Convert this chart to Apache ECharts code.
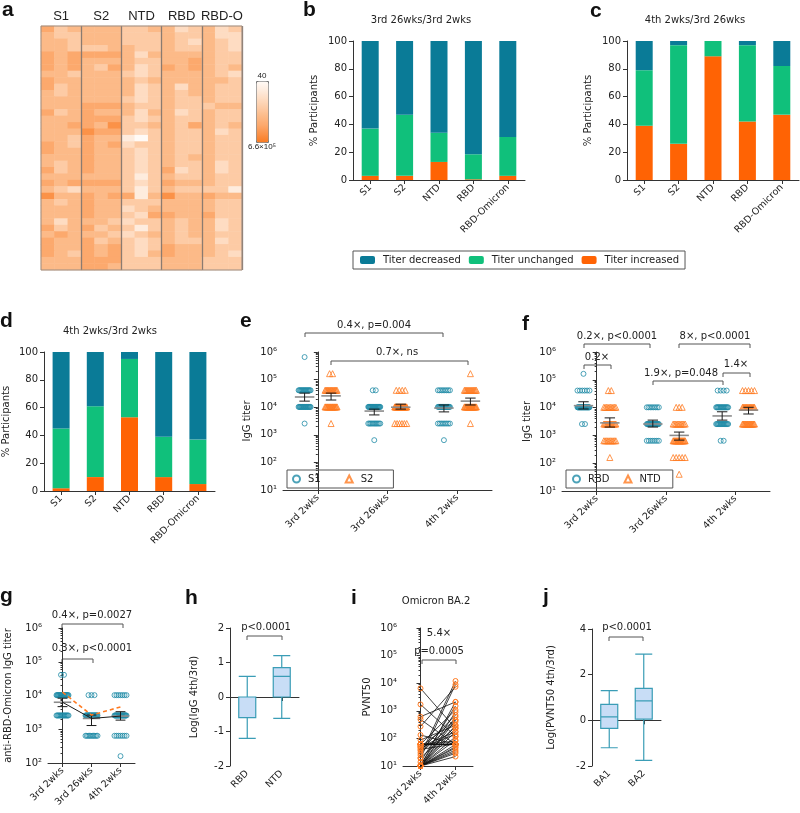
<!DOCTYPE html>
<html><head><meta charset="utf-8">
<script src="https://cdn.jsdelivr.net/npm/echarts@6/dist/echarts.min.js"></script>
<style>html,body{margin:0;padding:0;background:#fff}#c{width:800px;height:813px}</style>
</head><body><div id="c"></div><script>
// ---------------- DATA ----------------
// a: heatmap, level k => titer 40*4^k (k = 0..7)
const heatGroups = ['S1','S2','NTD','RBD','RBD-O'];
const heatRows = [
'534444334423423','433444333433422','443444333432432','443334433433432','545555424444433',
'545444433445433','545435423545434','443444323444432','544444434444443','534444423424433',
'434444423434433','444444323433433','444555433433344','534544424423433','444555323433433',
'445546334435434','444655323433423','443544103433433','543545233433433','544544323433433',
'444544323434433','434544323433423','534544323523423','444444313433433','545555323544433',
'432444313433331','644545514644544','434544333444433','444544234444433','444544325544533',
'424443233434423','534534313434423','454443234434433','544534323433423','544545323544433',
'543545324544432','444555333444333','444554333444333'];
const heatScaleLabels = ['40','6.6×10⁵'];

// b, c, d: stacked % participants
const barCats = ['S1','S2','NTD','RBD','RBD-Omicron'];
const b_inc = [3,3,13,0.5,3],  b_unch = [34,44,21,18,28], b_dec = [63,53,66,81.5,69];
const c_inc = [39,26,89,42,47], c_unch = [40,71,11,55,35], c_dec = [21,3,0,3,18];
const d_inc = [2,10,53,10,5],   d_unch = [43,51,42,29,32], d_dec = [55,39,5,61,63];

// e, f, g: counts of participants per titer level, for each time point
const timeCats = ['3rd 2wks','3rd 26wks','4th 2wks'];
const titerLevels = [40,160,640,2560,10240,40960,163840,655360];
const e_S1  = [[0,0,0,1,19,16,0,1],[0,0,1,11,23,2,0,0],[0,0,1,8,20,8,0,0]];
const e_S2  = [[0,0,0,1,18,16,2,0],[0,0,0,6,27,4,0,0],[0,0,0,1,21,14,1,0]];
const f_RBD = [[0,0,0,2,28,6,1,0],[0,0,7,22,8,0,0,0],[0,0,2,15,16,4,0,0]];
const f_NTD = [[0,1,10,14,10,2,0,0],[1,5,18,10,3,0,0,0],[0,0,0,16,16,5,0,0]];
const g_RBDO= [[0,0,0,15,20,2,0,0],[0,0,10,24,3,0,0,0],[0,1,7,22,7,0,0,0]];
// mean and SEM (log10)
const e_S1_mean=[4.37,3.86,3.97], e_S1_lo=[4.22,3.72,3.83], e_S1_hi=[4.51,3.93,4.08];
const e_S2_mean=[4.41,4.00,4.22], e_S2_lo=[4.26,3.93,4.08], e_S2_hi=[4.51,4.11,4.33];
const f_RBD_mean=[4.07,3.41,3.70], f_RBD_lo=[3.95,3.30,3.55], f_RBD_hi=[4.21,3.55,3.85];
const f_NTD_mean=[3.45,3.00,3.91], f_NTD_lo=[3.30,2.83,3.77], f_NTD_hi=[3.63,3.12,4.01];
const g_mean=[3.80,3.32,3.39], g_lo=[3.67,3.11,3.27], g_hi=[3.92,3.42,3.52];
const g_dash=[4.10,3.42,3.66];

// h, j: box plots [min, Q1, median, Q3, max]
const hCats = ['RBD','NTD'];
const hBoxes = [[-1.2,-0.6,0,0,0.6],[-0.62,0,0.6,0.85,1.2]];
const jCats = ['BA1','BA2'];
const jBoxes = [[-1.2,-0.35,0.15,0.7,1.3],[-1.75,0.05,0.85,1.4,2.9]];

// i: paired PVNT50 (3rd 2wks, 4th 2wks)
const iCats = ['3rd 2wks','4th 2wks'];
const i_3rd = [6500,1700,610,490,270,133,87,61,61,61,61,61,50,50,36,25,19,14,11,10,10,10,10,10,10,10,10,10,10,10,10,10,40,45,30,20,60,60,10,10];
const i_4th = [230,120,2100,60,7400,60,300,61,61,61,61,1070,465,175,700,12000,9000,1500,900,60,38,29,22,50,87,115,175,230,300,465,600,2100,63,140,400,260,60,80,45,33];

// ---------------- STYLE ----------------
const GP = 'DejaVu Sans';
const AX = '#333';
const C_DEC = '#0a7b97', C_UNCH = '#10c07b', C_INC = '#ff6304';
const TEAL = '#1f8ba6', ORANGE = '#ff7a21';
const sup = {'0':'⁰','1':'¹','2':'²','3':'³','4':'⁴','5':'⁵','6':'⁶'};
function logLabel(v){ const e = Math.round(Math.log10(v)); return '10' + sup[String(e)]; }

const grids = [
  {left:41, top:26, width:201, height:244},   // a
  {left:353, top:41, width:172, height:139},  // b
  {left:627, top:41, width:172, height:139},  // c
  {left:41, top:352, width:174, height:139},  // d
  {left:283, top:352, width:209, height:138}, // e
  {left:562, top:352, width:208, height:139}, // f
  {left:48, top:628, width:87, height:135},   // g
  {left:230, top:628, width:69, height:138},  // h
  {left:403, top:628, width:70, height:138},  // i
  {left:592, top:629, width:69, height:137}   // j
];

function catX(gridIndex, data, extra){
  return Object.assign({type:'category', gridIndex, data,
    axisLine:{show:true, lineStyle:{color:AX, width:1}},
    axisTick:{show:true, alignWithLabel:true, length:4, lineStyle:{color:AX}},
    axisLabel:{rotate:45, interval:0, fontSize:9.5, color:'#222', fontFamily:GP, margin:6},
    splitLine:{show:false}}, extra||{});
}
function hidX(gridIndex, max){ return {type:'value', gridIndex, min:-0.5, max, show:false}; }
function valY(gridIndex, min, max, interval, name, gap){
  return {type:'value', gridIndex, min, max, interval, name, nameLocation:'middle', nameGap:gap,
    nameTextStyle:{fontFamily:GP, fontSize:10, color:'#222'},
    axisLine:{show:true, lineStyle:{color:AX}}, axisTick:{show:true, length:4, lineStyle:{color:AX}},
    axisLabel:{fontSize:10, color:'#222', fontFamily:GP, margin:6}, splitLine:{show:false}};
}
function logY(gridIndex, min, max, name, gap){
  return {type:'log', logBase:10, gridIndex, min, max, name, nameLocation:'middle', nameGap:gap,
    nameTextStyle:{fontFamily:GP, fontSize:10, color:'#222'},
    axisLine:{show:true, lineStyle:{color:AX}}, axisTick:{show:true, length:4, lineStyle:{color:AX}},
    minorTick:{show:true, splitNumber:9, length:2, lineStyle:{color:AX}},
    axisLabel:{fontSize:10, color:'#222', fontFamily:GP, margin:6, formatter:logLabel}, splitLine:{show:false}};
}

const xAxes = [
  {type:'category', gridIndex:0, data:heatRows[0].split('').map((_,i)=>'c'+i), z:10,
   axisLine:{show:false}, axisTick:{show:false}, axisLabel:{show:false},
   splitLine:{show:true, interval:(i)=> i>0 && i%3===0, lineStyle:{color:'#8b7b70', width:1.3}}},
  {type:'category', gridIndex:0, position:'top', data:heatRows[0].split('').map((_,i)=>heatGroups[Math.floor(i/3)]+'|'+i),
   axisLine:{show:false}, axisTick:{show:false},
   axisLabel:{interval:(i)=> i%3===1, formatter:(v)=>v.split('|')[0], fontSize:13, color:'#222', fontFamily:'Liberation Sans', margin:3}},
  catX(1, barCats), catX(2, barCats), catX(3, barCats),
  catX(4, timeCats), hidX(4, 2.5),
  catX(5, timeCats), hidX(5, 2.5),
  catX(6, timeCats), hidX(6, 2.5),
  catX(7, hCats),
  catX(8, iCats), hidX(8, 1.5),
  catX(9, jCats)
];
const yAxes = [
  {type:'category', gridIndex:0, inverse:true, data:heatRows.map((_,i)=>'r'+i), show:false},
  valY(1, 0, 100, 20, '% Participants', 34),
  valY(2, 0, 100, 20, '% Participants', 34),
  valY(3, 0, 100, 20, '% Participants', 33),
  logY(4, 10, 1e6, 'IgG titer', 31),
  logY(5, 10, 1e6, 'IgG titer', 30),
  logY(6, 100, 1e6, 'anti-RBD-Omicron IgG titer', 35),
  valY(7, -2, 2, 1, 'Log(IgG 4th/3rd)', 31),
  logY(8, 10, 1e6, 'PVNT50', 31),
  valY(9, -2, 4, 2, 'Log(PVNT50 4th/3rd)', 36)
];

// ---------------- SERIES ----------------
const series = [];
const heatData = [];
heatRows.forEach((row, r)=> row.split('').forEach((ch, c)=> heatData.push([c, r, Number(ch)])));
series.push({type:'heatmap', xAxisIndex:0, yAxisIndex:0, data:heatData, itemStyle:{borderWidth:0}});

function bars(xi, yi, stack, inc, unch, dec){
  const base = {type:'bar', xAxisIndex:xi, yAxisIndex:yi, stack, barWidth:17};
  series.push(Object.assign({name:'Titer increased', data:inc, itemStyle:{color:C_INC}}, base));
  series.push(Object.assign({name:'Titer unchanged', data:unch, itemStyle:{color:C_UNCH}}, base));
  series.push(Object.assign({name:'Titer decreased', data:dec, itemStyle:{color:C_DEC}}, base));
}
bars(2,1,'b',b_inc,b_unch,b_dec);
bars(3,2,'c',c_inc,c_unch,c_dec);
bars(4,3,'d',d_inc,d_unch,d_dec);

function swarm(countsByTime, side, unitPx){
  const maxW = 12, stepPx = 3, pts = [];
  countsByTime.forEach((counts, t)=>{
    counts.forEach((n, k)=>{
      if(!n) return;
      const step = n>1 ? Math.min(stepPx, maxW/(n-1)) : 0;
      for(let i=0;i<n;i++) pts.push([t + side + (i-(n-1)/2)*step/unitPx, titerLevels[k]]);
    });
  });
  return pts;
}
function ring(color){ return {color:'rgba(0,0,0,0)', borderColor:color, borderWidth:1}; }
function meanSem(xi, yi, side, mean, lo, hi, halfMean, halfCap){
  const data = mean.map((m,t)=>[t+side, Math.pow(10,m), Math.pow(10,lo[t]), Math.pow(10,hi[t])]);
  series.push({type:'custom', xAxisIndex:xi, yAxisIndex:yi, data, z:5, silent:true,
    renderItem:(p, api)=>{
      const x=api.value(0), m=api.value(1), l=api.value(2), h=api.value(3);
      const a=api.coord([x-halfMean,m]), b=api.coord([x+halfMean,m]);
      const pl=api.coord([x,l]), ph=api.coord([x,h]);
      const l1=api.coord([x-halfCap,l]), l2=api.coord([x+halfCap,l]);
      const h1=api.coord([x-halfCap,h]), h2=api.coord([x+halfCap,h]);
      const ln=(p1,p2,st,w)=>({type:'line', shape:{x1:p1[0],y1:p1[1],x2:p2[0],y2:p2[1]}, style:{stroke:st, lineWidth:w}});
      return {type:'group', children:[ln(a,b,'#8c8c8c',1.6), ln(pl,ph,'#1a1a1a',1), ln(l1,l2,'#1a1a1a',1), ln(h1,h2,'#1a1a1a',1)]};
    }});
}
// e
series.push({name:'S1', type:'scatter', xAxisIndex:6, yAxisIndex:4, symbol:'circle', symbolSize:5, itemStyle:ring(TEAL), data:swarm(e_S1,-0.19,69.7)});
series.push({name:'S2', type:'scatter', xAxisIndex:6, yAxisIndex:4, symbol:'triangle', symbolSize:6, itemStyle:ring(ORANGE), data:swarm(e_S2,0.19,69.7)});
meanSem(6,4,-0.19,e_S1_mean,e_S1_lo,e_S1_hi,0.14,0.075);
meanSem(6,4,0.19,e_S2_mean,e_S2_lo,e_S2_hi,0.14,0.075);
// f
series.push({name:'RBD', type:'scatter', xAxisIndex:8, yAxisIndex:5, symbol:'circle', symbolSize:5, itemStyle:ring(TEAL), data:swarm(f_RBD,-0.19,69.3)});
series.push({name:'NTD', type:'scatter', xAxisIndex:8, yAxisIndex:5, symbol:'triangle', symbolSize:6, itemStyle:ring(ORANGE), data:swarm(f_NTD,0.19,69.3)});
meanSem(8,5,-0.19,f_RBD_mean,f_RBD_lo,f_RBD_hi,0.14,0.075);
meanSem(8,5,0.19,f_NTD_mean,f_NTD_lo,f_NTD_hi,0.14,0.075);
// g
series.push({name:'RBD-Omicron', type:'scatter', xAxisIndex:10, yAxisIndex:6, symbol:'circle', symbolSize:5, itemStyle:ring(TEAL), data:swarm(g_RBDO,0,29)});
meanSem(10,6,0,g_mean,g_lo,g_hi,0.3,0.17);
series.push({type:'line', xAxisIndex:10, yAxisIndex:6, data:g_mean.map((m,t)=>[t,Math.pow(10,m)]), symbol:'none', lineStyle:{color:'#1a1a1a', width:1}, z:6});
series.push({type:'line', xAxisIndex:10, yAxisIndex:6, data:g_dash.map((m,t)=>[t,Math.pow(10,m)]), symbol:'none', lineStyle:{color:ORANGE, width:1.6, type:[4,3]}, z:6});
// h, j
const boxStyle = {color:'#c8ddf6', borderColor:'#3a9db6', borderWidth:1.2};
series.push({type:'boxplot', xAxisIndex:11, yAxisIndex:7, data:hBoxes, boxWidth:[17,17], itemStyle:boxStyle});
series.push({type:'boxplot', xAxisIndex:14, yAxisIndex:9, data:jBoxes, boxWidth:[17,17], itemStyle:boxStyle});
// i
i_3rd.forEach((v,k)=>{
  series.push({type:'line', xAxisIndex:13, yAxisIndex:8, data:[[0,v],[1,i_4th[k]]],
    symbol:'circle', symbolSize:5, itemStyle:ring(ORANGE), lineStyle:{color:'#111', width:0.8}});
});

// ---------------- ANNOTATIONS ----------------
const graphic = [];
function txt(s, x, y, opt){
  graphic.push({type:'text', x, y, silent:true, style:Object.assign({text:s, fill:'#222', font:'10px "DejaVu Sans"', align:'center', verticalAlign:'middle'}, opt||{})});
}
function bracket(x1, x2, y){
  graphic.push({type:'polyline', silent:true, shape:{points:[[x1,y+4],[x1,y],[x2,y],[x2,y+4]]}, style:{stroke:'#555', lineWidth:1, fill:'none'}});
}
const L = {font:'bold 21px "Liberation Sans"', align:'left', fill:'#111'};
txt('a',2,10,L); txt('b',303,10,L); txt('c',590,11,L);
txt('d',0,321,L); txt('e',240,321,L); txt('f',522,324,L);
txt('g',0,596,L); txt('h',185,598,L); txt('i',351,598,L); txt('j',543,597,L);
txt('3rd 26wks/3rd 2wks',421,20); txt('4th 2wks/3rd 26wks',695,20);
txt('4th 2wks/3rd 2wks',110,331); txt('Omicron BA.2',436,601);
txt(heatScaleLabels[0],262,76,{font:'8px "Liberation Sans"'}); txt(heatScaleLabels[1],262,147,{font:'8px "Liberation Sans"'});
graphic.push({type:'rect', silent:true, shape:{x:41,y:26,width:201,height:244}, style:{fill:'none', stroke:'#9a8c82', lineWidth:1}, z:100});
// e
txt('0.4×, p=0.004',374,325); bracket(305,443,333);
txt('0.7×, ns',397,352); bracket(331,468,361);
// f
txt('0.2×, p<0.0001',617,336); bracket(584,650,344);
txt('0.2×',597,357); bracket(584,611,365);
txt('8×, p<0.0001',715,336); bracket(679,750,344);
txt('1.9×, p=0.048',681,373); bracket(653,723,381);
txt('1.4×',736,364); bracket(723,750,373);
// g
txt('0.4×, p=0.0027',92,615); bracket(62,123,624);
txt('0.3×, p<0.0001',92,648); bracket(62,93,659);
// h, i, j
txt('p<0.0001',266,627); bracket(247,282,636);
txt('5.4×',439,633); txt('p=0.0005',439,651); bracket(422,456,660);
txt('p<0.0001',627,627); bracket(609,643,637);

const legTxt = {fontFamily:GP, fontSize:10, color:'#222', padding:[0,0,0,3]};
const option = {
  animation:false,
  grid:grids, xAxis:xAxes, yAxis:yAxes, series, graphic,
  visualMap:{type:'continuous', seriesIndex:0, min:0, max:7, inverse:true, left:256, top:81,
    itemWidth:12, itemHeight:61, calculable:false, text:null, padding:0, borderColor:'#777', borderWidth:1,
    textStyle:{fontSize:0, color:'rgba(0,0,0,0)'},
    inRange:{color:['#fffaf6','#feecde','#fedcc2','#fdcba5','#fcba88','#fca96d','#fb9248','#f97b22']}},
  legend:[
    {data:['Titer decreased','Titer unchanged','Titer increased'], left:353, top:251, orient:'horizontal',
     itemWidth:15, itemHeight:8, itemGap:8, padding:[4,6,4,7], borderColor:'#555', borderWidth:1, textStyle:legTxt, selectedMode:false},
    {data:['S1','S2'], left:287, top:470, itemWidth:7, itemHeight:7, itemGap:24, padding:[4,20,4,5],
     borderColor:'#555', borderWidth:1, textStyle:legTxt, selectedMode:false},
    {data:['RBD','NTD'], left:566, top:470, itemWidth:7, itemHeight:7, itemGap:14, padding:[4,12,4,6],
     borderColor:'#555', borderWidth:1, textStyle:legTxt, selectedMode:false}
  ]
};
const chart = echarts.init(document.getElementById('c'), null, {renderer:'canvas'});
chart.setOption(option);
</script></body></html>
